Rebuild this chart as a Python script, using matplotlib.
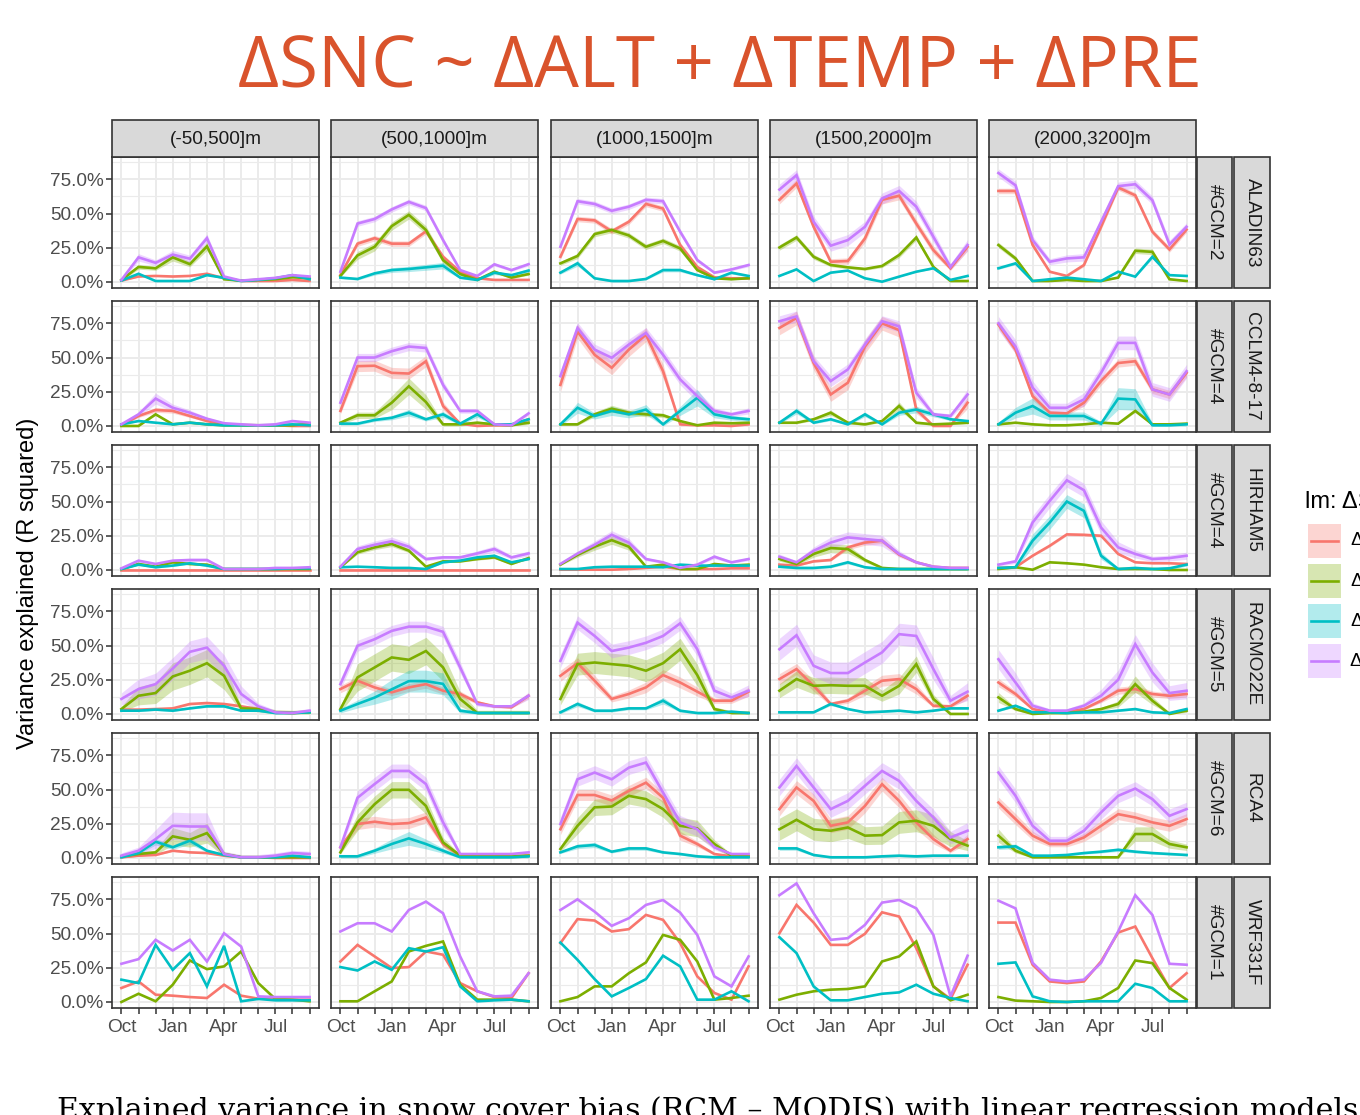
import numpy as np
import matplotlib.pyplot as plt
from matplotlib.patches import Rectangle
from matplotlib.lines import Line2D

plt.rcParams['font.family'] = ['Liberation Sans', 'DejaVu Sans']

months = np.arange(1, 13)
month_labels = ["Oct", "", "", "Jan", "", "", "Apr", "", "", "Jul", "", ""]
elev_bands = ["(-50,500]m", "(500,1000]m", "(1000,1500]m", "(1500,2000]m", "(2000,3200]m"]
rcms = ["ALADIN63", "CCLM4-8-17", "HIRHAM5", "RACMO22E", "RCA4", "WRF331F"]
n_gcm = ["#GCM=2", "#GCM=4", "#GCM=4", "#GCM=5", "#GCM=6", "#GCM=1"]
predictors = ["ΔALT", "ΔTEMP", "ΔPRE", "ΔALT + ΔTEMP + ΔPRE"]
colors = ["#F8766D", "#7CAE00", "#00BFC4", "#C77CFF"]

# R squared (%), Oct..Sep, one list per elevation band
aladin_alt = [[1, 4, 4.4, 4, 4.4, 6, 2.7, 0.7, 0.7, 0.7, 1.5, 0.7],
              [5, 28, 32, 28, 28, 37, 18.4, 7.5, 2.7, 1.5, 1.5, 1.5],
              [18.4, 46, 45, 37, 44, 57, 53.6, 27, 11, 3.4, 2.7, 2.7],
              [60, 72, 40.3, 14.8, 15.3, 31.8, 60, 63, 42.7, 23.3, 10, 25.7],
              [66.5, 66.5, 27, 7.5, 4.4, 12.4, 40.3, 69, 63.3, 36.7, 23.8, 38.3]]
aladin_temp = [[1.5, 11, 10, 18, 13, 26, 2, 1, 1.5, 2, 3.5, 2.7],
               [4.4, 19.4, 25.7, 40.8, 49, 38, 16, 5.8, 1.5, 7.5, 3.2, 5.8],
               [13.6, 19, 35, 38, 34, 25.7, 30, 24.5, 8.7, 2.7, 2, 2.7],
               [25.2, 32.5, 18.4, 12.4, 10.7, 9.5, 11.7, 19.7, 32.5, 11, 0.7, 0.7],
               [27, 17.2, 0.7, 0.7, 1.5, 0.7, 0.7, 3.2, 22.8, 22, 2, 0.7]]
aladin_pre = [[1, 6, 0.7, 0.7, 0.7, 5, 3, 0.7, 1.5, 2.7, 5, 2],
              [3.2, 2.2, 6.3, 8.7, 9.5, 10.7, 11.9, 3.2, 1.5, 6.8, 5, 8.3],
              [6.8, 13.6, 2.7, 0.7, 0.7, 2.2, 8.7, 8.7, 5, 2, 6.8, 4.4],
              [4.4, 9.2, 0.7, 6.8, 8.3, 2.7, 0.2, 3.9, 7.5, 10, 1.5, 4.4],
              [10, 13.6, 0.7, 2, 3.2, 2, 0.7, 7.5, 3.9, 18.4, 5, 4.4]]
aladin_all = [[1.5, 18, 14, 20, 17, 32, 4, 1, 2, 3, 5, 4],
              [7.5, 42.7, 46, 53, 58.5, 54, 30.6, 8.7, 4.4, 12.9, 8.7, 13],
              [25.7, 59, 57, 52, 55, 60, 59, 36.7, 16, 6.8, 9.2, 12.4],
              [67.5, 78, 44, 26.5, 30.6, 40.3, 61, 66.5, 55, 33, 11, 27],
              [79.6, 70.6, 30.6, 14.8, 17.2, 18, 44, 70, 71.4, 59.7, 27.4, 40.3]]

cclm_alt = [[0.5, 7.3, 11.7, 11, 7.3, 3.6, 1.2, 0.7, 0.5, 0.5, 0, 0],
            [11, 43.7, 44, 38.8, 38.3, 47.3, 14.6, 1.7, 0, 0.5, 0.5, 4.9],
            [30, 69, 52, 42.5, 55.8, 66.7, 40, 1.2, 0.5, 0.5, 0, 1.2],
            [71.6, 78.9, 46, 23, 31.6, 58, 75, 70, 12, 0, 0, 17],
            [74, 55.8, 21.8, 9.7, 9.2, 17, 32.8, 46, 47.3, 26.7, 23, 38.8]]
cclm_temp = [[0, 0, 8.5, 1.2, 2.4, 1.2, 0.5, 0.5, 0.5, 0.5, 0.5, 1.7],
             [2.4, 7.8, 7.8, 17, 29, 17.5, 1.2, 1.2, 2.4, 1.2, 0.5, 2.4],
             [1.2, 1.2, 8.5, 12.6, 9.7, 8.5, 7.8, 3.6, 0.5, 2.4, 2, 2.4],
             [2.4, 2.4, 4.9, 9.7, 2.4, 1.2, 3.6, 14.6, 2.4, 1.2, 1.7, 2.4],
             [1.2, 2.4, 1.2, 0.5, 0.5, 1.2, 2.4, 1.7, 11, 1.2, 1.2, 1.7]]
cclm_pre = [[1.2, 3.6, 2.4, 1.2, 2.4, 1.2, 0.5, 0.5, 0.5, 0.5, 1.2, 0.5],
            [1.7, 1.7, 4.4, 6, 9.7, 4.9, 8.5, 1.7, 8.5, 1.2, 1.2, 4.9],
            [1.2, 13.3, 7.3, 11, 8.5, 12, 1.2, 11, 20.6, 8.5, 6, 4.9],
            [2.4, 11, 2.4, 4.9, 1.2, 8.5, 1.2, 9.7, 12, 8.5, 4.9, 3.6],
            [1.2, 9.7, 14.6, 7.3, 7.3, 7.3, 1.7, 20, 19.4, 0.5, 0.5, 1.2]]
cclm_all = [[1.2, 8.5, 20, 13.3, 9.7, 5.3, 2, 1.2, 0.5, 1.2, 3.6, 2.4],
            [17, 50, 50, 54.6, 58, 57, 30, 11, 11, 1.2, 0.5, 9.2],
            [36.4, 71.6, 55.8, 49.8, 59.5, 68, 52, 34, 21.8, 11, 8.5, 11],
            [76.5, 80, 47.3, 32.8, 41.3, 59.5, 76.5, 72.8, 24.3, 8.5, 7.3, 23],
            [75, 58, 28, 13.3, 13.3, 19.4, 38.8, 60.7, 60.7, 26.7, 23, 40]]

hirham_alt = [[0.3, 0.3, 0.3, 0.3, 0.3, 0.3, 0.3, 0.3, 0.3, 0.3, 0.3, 0.3],
              [0.3, 0.3, 0.3, 0.3, 0.3, 0.3, 0.3, 0.3, 0.3, 0.3, 0.3, 0.3],
              [0.2, 0.2, 0.2, 0.2, 0.7, 1.5, 2.4, 0.7, 0.7, 0.7, 1.2, 1.2],
              [3.9, 3.2, 6.3, 7.3, 16.5, 20, 21.4, 11.2, 5.6, 2.4, 1.5, 1.5],
              [1.5, 2, 10.4, 17.7, 26, 25.7, 25, 11.7, 5.6, 4.9, 4.9, 4.4]]
hirham_temp = [[0.7, 4.4, 2.4, 5.6, 4.4, 3.9, 0.7, 0.7, 0.7, 0.7, 0.7, 0.7],
               [2, 12.9, 16.5, 19, 14.1, 2.4, 6.3, 6.3, 8, 9.2, 4.4, 8.7],
               [3.9, 11, 17, 21.8, 17, 2.4, 3.9, 0.7, 0.7, 4.4, 3.2, 3.9],
               [8, 4.4, 11.7, 16, 15.3, 7.3, 1.5, 0.7, 0.7, 0.7, 0.7, 0.7],
               [0.7, 2, 0.2, 5.6, 4.9, 3.9, 2, 0.7, 0.7, 0.7, 0, 0]]
hirham_pre = [[0.7, 3.9, 2, 3.2, 4.9, 3.2, 0.7, 0.7, 0.7, 0.7, 1.2, 1.2],
              [2, 2.4, 2, 1.5, 1.5, 0.7, 5.6, 6.8, 9.2, 10.4, 5.6, 8],
              [0.7, 0.7, 2, 2.4, 2.4, 2.4, 2, 3.9, 3.2, 3.2, 3.2, 3.2],
              [2.4, 1.5, 1.5, 2.4, 5.6, 2, 0.7, 0.7, 0.7, 0.7, 0.7, 0.7],
              [1.5, 2, 21.4, 34.7, 50, 43.2, 10.4, 0.7, 1.5, 0.7, 1.2, 3.9]]
hirham_all = [[1.2, 6.8, 4.4, 6.8, 7.3, 7.3, 0.7, 0.7, 0.7, 1.5, 1.5, 2],
              [2.4, 15.3, 18.4, 21, 17, 8, 9.2, 9.2, 12.1, 15.3, 9.2, 12.1],
              [4.4, 12, 18.4, 25.7, 20, 8, 5.6, 1.5, 3.9, 9.7, 5.6, 8],
              [9.7, 5.6, 14, 20, 23.8, 22.6, 21.4, 11.7, 5.6, 2.4, 1.5, 1.5],
              [3.9, 6.3, 34.7, 50.5, 65.5, 58.3, 31, 16.5, 11.7, 8, 8.7, 10.4]]

racmo_alt = [[3.2, 3.2, 3.6, 4.1, 7.3, 8, 7.3, 5.6, 3.6, 1.2, 0.7, 1.7],
             [18.2, 24.3, 19.4, 15.8, 19.4, 21.8, 17, 14.6, 8.5, 5.6, 4.9, 13.3],
             [27.9, 37.1, 24.3, 11, 14.6, 19.4, 28.4, 23, 16.3, 9.7, 9.7, 16.3],
             [25.5, 32.8, 20.6, 7.3, 9.7, 17, 24.3, 25.5, 18.2, 6, 5.6, 13.3],
             [23, 14.6, 3.6, 1.2, 1.7, 3.6, 9.7, 17, 18.2, 14.6, 13.3, 14.6]]
racmo_temp = [[3.6, 13.3, 15.3, 27.4, 31.6, 37.1, 27.9, 4.1, 3.6, 1.2, 0.7, 1.2],
              [3.6, 26.7, 34, 41.3, 39.6, 46, 34, 11, 0.7, 0.7, 0.7, 0.7],
              [11, 36.4, 37.6, 36.4, 35.2, 31.6, 37.1, 47.3, 28.4, 3.6, 0.7, 0.7],
              [17, 25.5, 20.6, 21, 20.6, 20.6, 13.3, 20.6, 36.4, 11, 0, 0],
              [12.1, 3.6, 0, 0.7, 0.7, 1.7, 3.6, 7.3, 21.8, 9.7, 0, 2.4]]
racmo_pre = [[2.4, 2.4, 3.2, 2.4, 4.1, 5.6, 5.6, 2.4, 2.4, 0.7, 0.7, 1.2],
             [2.4, 7.3, 12, 18, 24, 24, 22, 2.4, 0.7, 0.7, 0.7, 0.7],
             [1.2, 7.3, 2.4, 2.4, 4.1, 4.1, 9.7, 2.4, 0.7, 0.7, 1.7, 0.7],
             [1.2, 1.2, 1.2, 7.3, 3.6, 1.2, 1.7, 2.4, 1.2, 2.4, 4.1, 4.1],
             [2.4, 6, 1.2, 1.2, 0.7, 1.2, 1.2, 2.4, 3.6, 1.2, 0.7, 3.6]]
racmo_all = [[11, 18.2, 21.8, 33.2, 45.4, 48.5, 35.2, 14.6, 5.6, 1.2, 0.7, 2.4],
             [21.8, 49.8, 54.6, 60.7, 63.8, 63.8, 60, 34, 7.3, 5.6, 5.6, 13.3],
             [38.8, 66.7, 57, 46, 48.5, 52, 57, 66.2, 47.3, 17, 12.1, 17],
             [47.3, 57.5, 35.2, 29.9, 29.9, 37.6, 45, 58.3, 57, 32.8, 9.7, 16.3],
             [40, 23, 6, 2.4, 2.4, 6, 13.3, 25, 51, 30.3, 15.3, 17]]

rca_alt = [[0.5, 1.7, 2.2, 5.3, 4.1, 3.6, 1.7, 0.5, 0.5, 0, 0, 0],
           [7.8, 24.8, 26.5, 24.8, 25.5, 29.6, 10.2, 1.7, 1.2, 1.2, 1.2, 1.7],
           [21, 46, 46, 42, 49, 55, 44, 16.3, 10.2, 2.9, 1.2, 1.2],
           [35.7, 51.5, 41.7, 23.5, 26, 38, 53.9, 41.7, 26, 13.8, 5.3, 13.8],
           [40.5, 28.4, 16.3, 10.2, 10.2, 15, 23.5, 32, 29.6, 26, 23.5, 28.4]]
rca_temp = [[1.2, 2.9, 4.1, 15.8, 13.3, 18.2, 2.9, 0.5, 0.5, 0.5, 0.5, 0.5],
            [4.1, 26, 39.3, 49.8, 49.8, 38, 11.4, 1.7, 1.2, 1.2, 1.2, 1.7],
            [6.6, 23.5, 37, 37.6, 45.4, 43, 35.7, 23.5, 21.6, 10.2, 1.7, 1.2],
            [21, 27.9, 21, 19.9, 22.3, 16.3, 16.7, 26, 27.2, 23.5, 13.8, 9],
            [16.3, 5.3, 0.5, 0.5, 0.5, 0.5, 0.5, 0.5, 17.5, 17.5, 10.2, 7.8]]
rca_pre = [[0.5, 3.6, 11.9, 7.8, 12.6, 5.3, 2.2, 0.5, 0.5, 0.5, 1.7, 0.5],
           [1.2, 1.2, 5.3, 10.2, 14.3, 10.2, 5.3, 0.5, 0.5, 0.5, 0.5, 1.2],
           [4.1, 8.5, 9.5, 4.6, 7, 7, 4.1, 2.9, 1.2, 0.5, 0.5, 0.5],
           [7, 7, 2.2, 0.5, 0.5, 0.5, 1.2, 1.7, 1.2, 1.7, 1.7, 1.7],
           [7.8, 8.5, 1.7, 1.7, 2.2, 3.6, 4.6, 6, 4.6, 3.6, 2.9, 2.2]]
rca_all = [[1.7, 5.3, 13.8, 23.5, 23, 23, 2.9, 0.5, 0.5, 1.7, 3.6, 2.9],
           [7.8, 44, 54, 63.6, 63.6, 54, 26, 2.9, 2.9, 2.9, 2.9, 4.1],
           [24.8, 57.5, 62.4, 57.5, 66, 69.7, 47.8, 26, 21, 7.8, 2.9, 2.9],
           [51.5, 67.2, 51.5, 35.7, 41.7, 52.7, 63.6, 56.3, 41.7, 29.6, 15, 19.9],
           [62.4, 45.4, 23.5, 12.6, 12.6, 19.9, 33.3, 45.4, 50.7, 43, 30.8, 35.7]]

wrf_alt = [[10.2, 15, 5.3, 4.6, 3.6, 2.9, 12.6, 4.6, 2.4, 2.4, 1.7, 1.7],
           [29.6, 41.7, 33.3, 24.8, 25.5, 36.9, 34.5, 13.8, 7.8, 3.6, 2.9, 21],
           [43, 60.5, 59.5, 51.5, 53.2, 63.6, 60, 43, 18.7, 6.6, 1.7, 26],
           [50.2, 70.9, 58, 41.7, 41.7, 49.8, 65.5, 62.4, 39.3, 11.4, 2.2, 27.2],
           [58, 58, 27.2, 15, 13.8, 15, 29.6, 50.7, 55.1, 32, 10.2, 21]]
wrf_temp = [[0, 6, 0.5, 12.6, 30.3, 24, 26, 36.9, 13.8, 2.2, 1.7, 0.5],
            [0.5, 0.5, 7.8, 15, 36.9, 41, 44.2, 12.6, 1.7, 1.7, 1.7, 0.5],
            [0.5, 3.6, 11.4, 11.4, 21, 28.9, 49, 45.4, 29.6, 1.7, 2.9, 4.6],
            [1.7, 5.3, 7.8, 9, 9.5, 11.4, 29.6, 33.3, 44.2, 11.4, 1.2, 5.3],
            [3.6, 1, 0.5, 0, 0, 0.5, 2.9, 10.2, 30.3, 28.4, 10.2, 1.7]]
wrf_pre = [[16.3, 13.8, 41.7, 23.5, 35.7, 11.4, 41, 0.5, 2.2, 1.2, 1.2, 1.2],
           [25.5, 23, 29.6, 23.5, 39.3, 36.9, 40, 11.4, 0.5, 1.2, 1.7, 0.5],
           [43.4, 30.8, 16.7, 4.1, 10.2, 16.7, 33.8, 26, 1.7, 1.7, 7.8, 0.5],
           [47.3, 35.7, 11.4, 1.2, 1.2, 3.6, 6, 7, 12.6, 6, 2.9, 0.5],
           [27.9, 28.9, 4.1, 0.5, 0, 0.5, 0.5, 0.5, 13.3, 10.2, 0.5, 0.5]]
wrf_all = [[27.9, 31.3, 45.4, 37.6, 45.4, 29.6, 50.2, 40.5, 4.1, 3.6, 3.6, 3.6],
           [51.5, 57.5, 57.5, 51.5, 67.2, 73.3, 64.8, 33.3, 7.8, 4.1, 4.6, 21],
           [67.2, 75, 66, 55.6, 61.2, 70.9, 74.5, 65.3, 49, 18.7, 11.4, 33.3],
           [78, 86.6, 64.8, 45.4, 46.6, 56.3, 72.6, 74.5, 68.4, 49, 4.1, 33.8],
           [74, 68.4, 28.6, 16.3, 15, 16.3, 28.6, 51.5, 78, 63.6, 27.9, 27.2]]

# spread across GCMs (%), [alt, temp, pre, all] per elevation band
aladin_spread = [[1.5, 3, 1.5, 3], [2, 3, 4, 2], [2, 2, 3, 2], [3, 2, 1, 4], [2, 2, 1.5, 3]]
cclm_spread = [[3, 2, 2, 4], [4, 6, 5, 3], [5, 4, 6, 4], [5, 4, 4, 4], [3, 2, 8, 5]]
hirham_spread = [[1, 3, 3, 3], [0.5, 2, 2, 3], [0.5, 3, 3, 3], [2, 4, 4, 4], [1, 2, 5, 5]]
racmo_spread = [[2, 10, 3, 8], [3, 10, 8, 4], [4, 8, 5, 5], [4, 6, 3, 8], [3, 6, 3, 7]]
rca_spread = [[2, 8, 4, 10], [4, 6, 7, 5], [4, 6, 4, 5], [5, 8, 4, 6], [4, 6, 4, 5]]
wrf_spread = [[0, 0, 0, 0], [0, 0, 0, 0], [0, 0, 0, 0], [0, 0, 0, 0], [0, 0, 0, 0]]

series = [[aladin_alt, aladin_temp, aladin_pre, aladin_all],
          [cclm_alt, cclm_temp, cclm_pre, cclm_all],
          [hirham_alt, hirham_temp, hirham_pre, hirham_all],
          [racmo_alt, racmo_temp, racmo_pre, racmo_all],
          [rca_alt, rca_temp, rca_pre, rca_all],
          [wrf_alt, wrf_temp, wrf_pre, wrf_all]]
spreads = [aladin_spread, cclm_spread, hirham_spread, racmo_spread, rca_spread, wrf_spread]

W, H = 1360, 1115


def fx(px):
    return px / W


def fy(py):
    return 1 - py / H


fig = plt.figure(figsize=(W / 100, H / 100), dpi=100)

col_left = [112, 331, 551, 770, 989]
row_top = [157, 301, 445, 589, 733, 877]
pw, ph = 207, 131
strip_fill = "#D9D9D9"
dark = "#333333"

for r in range(6):
    for c in range(5):
        ax = fig.add_axes([fx(col_left[c]), fy(row_top[r] + ph), pw / W, ph / H])
        # ribbons first
        for k in range(4):
            v = np.array(series[r][k][c]) / 100
            s = spreads[r][c][k] / 100
            if s > 0:
                hw = s * np.clip(v / 0.2, 0.2, 1.0)
                ax.fill_between(months, np.maximum(v - hw, 0), v + hw,
                                color=colors[k], alpha=0.3, lw=0)
        for k in range(4):
            v = np.array(series[r][k][c]) / 100
            ax.plot(months, v, color=colors[k], lw=1.9, solid_joinstyle="miter")

        ax.set_xlim(0.45, 12.55)
        ax.set_ylim(-0.044, 0.913)
        ax.set_xticks(months)
        ax.set_xticklabels(month_labels)
        ax.set_yticks([0, 0.25, 0.5, 0.75])
        ax.set_yticklabels(["0.0%", "25.0%", "50.0%", "75.0%"])
        ax.set_yticks([0.125, 0.375, 0.625, 0.875], minor=True)
        ax.grid(which="major", color="#EBEBEB", lw=1.4)
        ax.grid(which="minor", axis="y", color="#EBEBEB", lw=0.8)
        ax.set_axisbelow(True)
        ax.tick_params(which="minor", length=0)
        ax.tick_params(which="major", length=4, width=1.1, color=dark,
                       labelsize=13.7, labelcolor="#4D4D4D", pad=2)
        ax.tick_params(axis="x", pad=4)
        if c > 0:
            ax.tick_params(axis="y", left=False, labelleft=False)
        if r < 5:
            ax.tick_params(axis="x", bottom=False, labelbottom=False)
        for sp in ax.spines.values():
            sp.set_color(dark)
            sp.set_linewidth(1.2)

# top strips
for c in range(5):
    fig.patches.append(Rectangle((fx(col_left[c]), fy(157)), pw / W, 37 / H,
                                 transform=fig.transFigure, facecolor=strip_fill,
                                 edgecolor=dark, lw=1.2))
    fig.text(fx(col_left[c] + pw / 2), fy(139.5), elev_bands[c], ha="center", va="center",
             size=13.7, color="#1A1A1A")

# right strips
for r in range(6):
    t = row_top[r]
    fig.patches.append(Rectangle((fx(1197), fy(t + ph)), 35 / W, ph / H,
                                 transform=fig.transFigure, facecolor=strip_fill,
                                 edgecolor=dark, lw=1.2))
    fig.patches.append(Rectangle((fx(1234), fy(t + ph)), 36 / W, ph / H,
                                 transform=fig.transFigure, facecolor=strip_fill,
                                 edgecolor=dark, lw=1.2))
    fig.text(fx(1214.5), fy(t + ph / 2), n_gcm[r], rotation=-90, ha="center", va="center",
             size=13.7, color="#1A1A1A")
    fig.text(fx(1252), fy(t + ph / 2), rcms[r], rotation=-90, ha="center", va="center",
             size=13.7, color="#1A1A1A")

# y axis title
fig.text(fx(28), fy(583), "Variance explained (R squared)", rotation=90,
         ha="center", va="center", size=17, color="black")

# legend (runs off the right edge, as in the source slide)
fig.text(fx(1305), fy(502), "lm: ΔSNC ~", ha="left", va="center", size=17)
for k in range(4):
    top = 524 + 40 * k
    fig.patches.append(Rectangle((fx(1308), fy(top + 34)), 33 / W, 34 / H,
                                 transform=fig.transFigure, facecolor=colors[k],
                                 alpha=0.3, lw=0))
    fig.lines.append(Line2D([fx(1311), fx(1338)], [fy(top + 17)] * 2,
                            transform=fig.transFigure, color=colors[k], lw=1.9))
    fig.text(fx(1350), fy(top + 17), predictors[k], ha="left", va="center", size=13.7)

# slide title and caption
fig.text(fx(720), fy(69), "ΔSNC ~ ΔALT + ΔTEMP + ΔPRE", ha="center", va="center",
         color="#D9532C", family=["Open Sans", "DejaVu Sans"], size=51)
fig.text(fx(57), fy(1119), "Explained variance in snow cover bias (RCM \u2013 MODIS) with linear regression models",
         ha="left", va="baseline", family=["DejaVu Serif"], size=21.6)

fig.savefig("out.png", dpi=100)
